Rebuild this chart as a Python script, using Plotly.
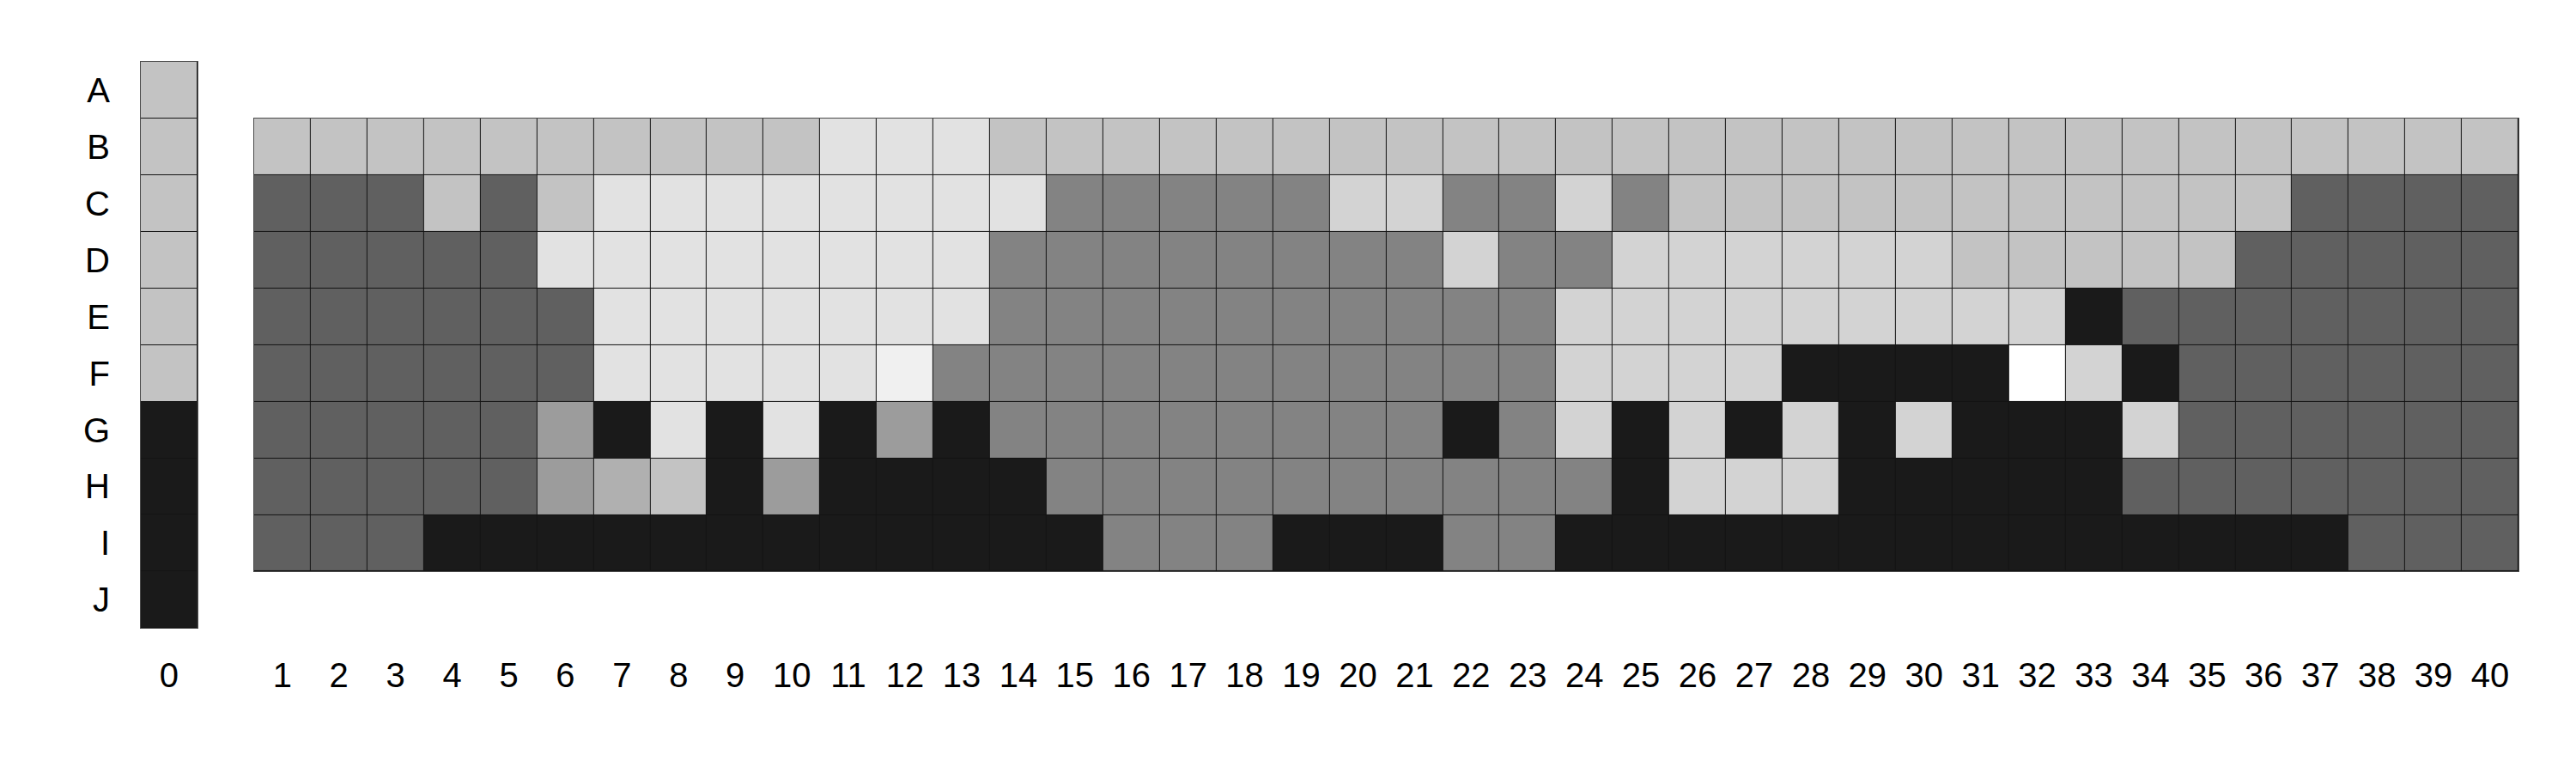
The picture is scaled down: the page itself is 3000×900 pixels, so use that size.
import plotly.graph_objects as go

# ---------------- data ----------------
all_rows = ["A", "B", "C", "D", "E", "F", "G", "H", "I", "J"]
main_rows = ["B", "C", "D", "E", "F", "G", "H", "I"]
main_cols = list(range(1, 41))

# gray-level category codes (dark -> light) and their colors
level_codes = ["K", "D", "M", "G", "S", "L", "P", "E", "F", "W"]
level_colors = ["#1a1a1a", "#606060", "#838383", "#9c9c9c", "#b0b0b0",
                "#c3c3c3", "#d3d3d3", "#e2e2e2", "#f0f0f0", "#ffffff"]

# column 0, rows A..J
col0 = ["L", "L", "L", "L", "L", "L", "K", "K", "K", "K"]

# columns 1..40, rows B..I
row_B = "LLLLLLLLLL" "EEE" "LLLLLLLLLLLLLLLLLLLLLLLLLLL"
row_C = "DDDLDL" "EEEEEEEE" "MMMMM" "PP" "MM" "P" "M" "LLLLLLLLLLL" "DDDD"
row_D = "DDDDD" "EEEEEEEE" "MMMMMMMM" "P" "MM" "PPPPPP" "LLLLL" "DDDDD"
row_E = "DDDDDD" "EEEEEEE" "MMMMMMMMMM" "PPPPPPPPP" "K" "DDDDDDD"
row_F = "DDDDDD" "EEEEE" "F" "MMMMMMMMMMM" "PPPP" "KKKK" "W" "P" "K" "DDDDDD"
row_G = "DDDDD" "GKEKEKGK" "MMMMMMMM" "KMPKPKPKPKKKP" "DDDDDD"
row_H = "DDDDD" "GSLKG" "KKKK" "MMMMMMMMMM" "K" "PPP" "KKKKK" "DDDDDDD"
row_I = "DDD" "KKKKKKKKKKKK" "MMM" "KKK" "MM" "KKKKKKKKKKKKKK" "DDD"
main_grid = [row_B, row_C, row_D, row_E, row_F, row_G, row_H, row_I]
for r in main_grid:
    assert len(r) == 40, r

# ---------------- build ----------------
code_idx = {c: i for i, c in enumerate(level_codes)}
n = len(level_codes)
colorscale = []
for i, col in enumerate(level_colors):
    colorscale.append([i / n, col])
    colorscale.append([(i + 1) / n, col])

z0 = [[code_idx[c]] for c in col0]
zm = [[code_idx[c] for c in r] for r in main_grid]

FW, FH = 3000, 900
PAGE_OFF = 8  # default body margin of the html page
grid_left, grid_right = 164.0 - PAGE_OFF, 2933.0 - PAGE_OFF
grid_top = 72.0 - PAGE_OFF
n_slots = 42  # column 0, one empty slot, columns 1..40
cell_w = (grid_right - grid_left) / n_slots
cell_h = cell_w
grid_bottom = grid_top + len(all_rows) * cell_h

def xd(a, b):
    return [a / FW, b / FW]

def yd(top, bottom):
    return [1 - bottom / FH, 1 - top / FH]

font = dict(family="Liberation Sans, Arial, sans-serif", size=40, color="black")
line_col = "#4a4a4a"

fig = go.Figure()
fig.add_trace(go.Heatmap(
    z=z0, x=[0], y=list(range(len(all_rows))),
    colorscale=colorscale, zmin=-0.5, zmax=n - 0.5, showscale=False,
    xgap=1, ygap=1, xaxis="x", yaxis="y", hoverinfo="skip"))
fig.add_trace(go.Heatmap(
    z=zm, x=main_cols, y=list(range(1, 1 + len(main_rows))),
    colorscale=colorscale, zmin=-0.5, zmax=n - 0.5, showscale=False,
    xgap=1, ygap=1, xaxis="x2", yaxis="y2", hoverinfo="skip"))

x_label_standoff = 20
fig.update_layout(
    width=FW, height=FH,
    margin=dict(l=0, r=0, t=0, b=0),
    paper_bgcolor="white", plot_bgcolor="#141414",
    font=font,
    xaxis=dict(domain=xd(grid_left, grid_left + cell_w), range=[-0.5, 0.5],
               tickvals=[0], ticktext=["0"], ticks="", showgrid=False,
               zeroline=False, showline=True, mirror=True, linecolor=line_col,
               linewidth=1, anchor="y", ticklabelstandoff=x_label_standoff,
               tickfont=font),
    yaxis=dict(domain=yd(grid_top, grid_bottom), range=[len(all_rows) - 0.5, -0.5],
               tickvals=list(range(len(all_rows))), ticktext=all_rows, ticks="",
               showgrid=False, zeroline=False, showline=True, mirror=True,
               linecolor=line_col, linewidth=1, anchor="x",
               ticklabelstandoff=27, tickfont=font),
    xaxis2=dict(domain=xd(grid_left + 2 * cell_w, grid_right), range=[0.5, 40.5],
                tickvals=main_cols, ticktext=[str(c) for c in main_cols], ticks="",
                showgrid=False, zeroline=False, showline=True, mirror=True,
                linecolor=line_col, linewidth=1, anchor="y2",
                ticklabelstandoff=int(round(x_label_standoff + cell_h)), tickfont=font),
    yaxis2=dict(domain=yd(grid_top + cell_h, grid_top + 9 * cell_h),
                range=[len(main_rows) + 0.5, 0.5], showticklabels=False, ticks="",
                showgrid=False, zeroline=False, showline=True, mirror=True,
                linecolor=line_col, linewidth=1, anchor="x2"),
)

fig.write_html("out.html")
